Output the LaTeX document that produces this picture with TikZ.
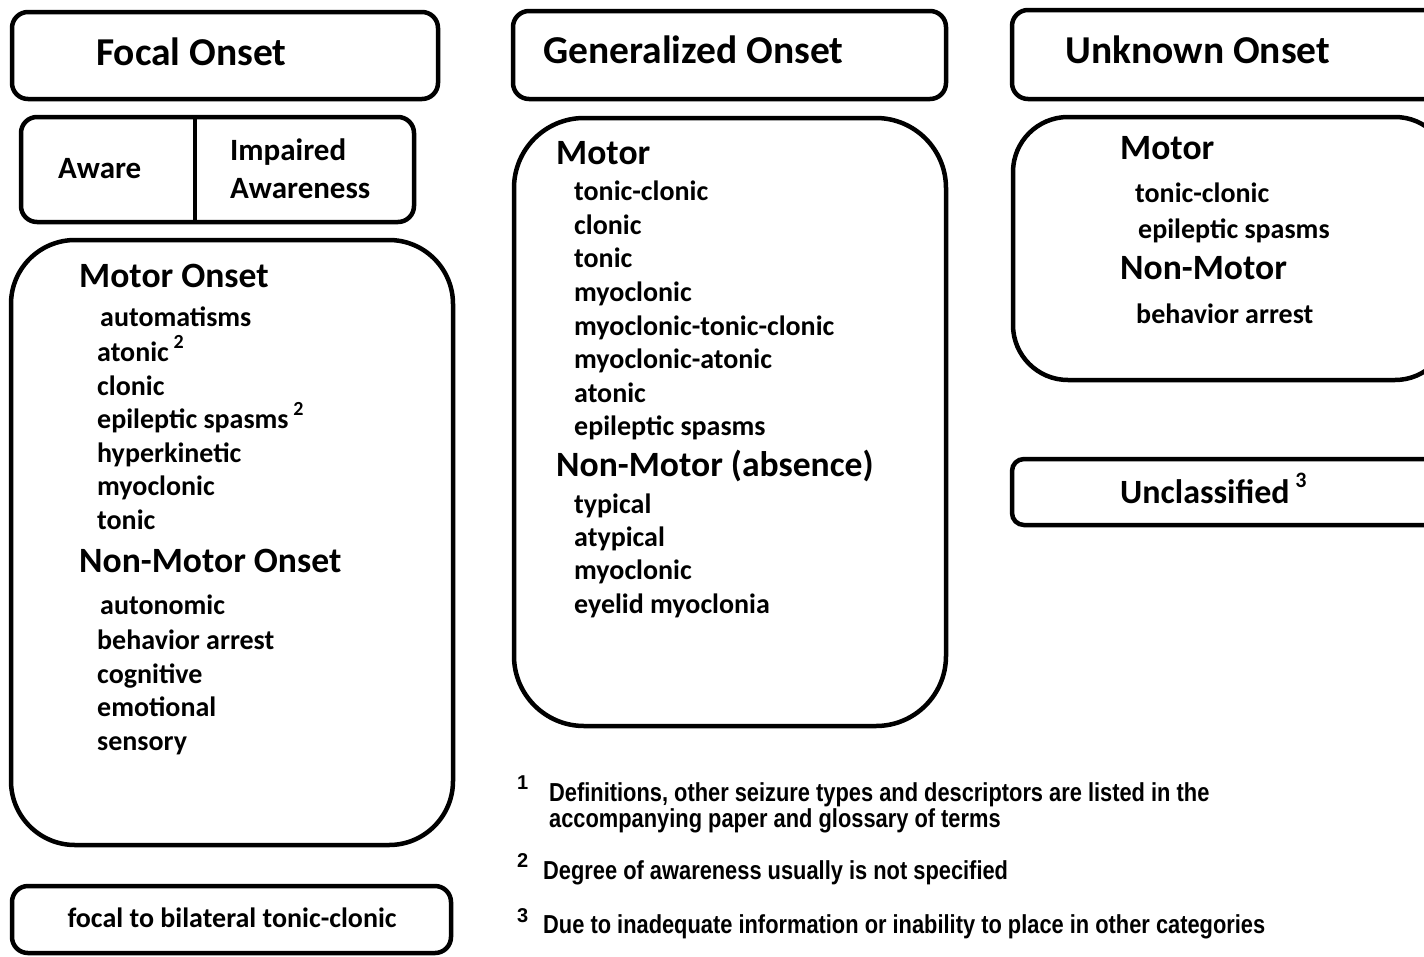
\documentclass[tikz,border=0pt]{standalone}
\usepackage{fontspec}
\setmainfont{Carlito}
\newfontfamily\fnfont{Liberation Sans}[FakeStretch=0.84]
\newfontfamily\mkfont{Liberation Sans}
\begin{document}
\begin{tikzpicture}[x=1pt,y=-1pt,
  hbox/.style={draw, line width=4.5pt, rounded corners=16pt},
  bigbox/.style={draw, line width=4.5pt, rounded corners=64pt},
  ttl/.style={anchor=base west, inner sep=0pt, font=\bfseries\fontsize{39.5}{42}\selectfont},
  hdr/.style={anchor=base west, inner sep=0pt, font=\bfseries\fontsize{35.6}{38}\selectfont},
  itm/.style={anchor=base west, inner sep=0pt, font=\bfseries\fontsize{28}{30}\selectfont},
  aw/.style={anchor=base west, inner sep=0pt, font=\bfseries\fontsize{31}{33}\selectfont},
  fn/.style={anchor=base west, inner sep=0pt, font=\fnfont\bfseries\fontsize{26}{28}\selectfont},
  mk/.style={anchor=base west, inner sep=0pt, font=\mkfont\bfseries\fontsize{20}{22}\selectfont}]
\clip (0,0) rectangle (1424,956);
\fill[white] (0,0) rectangle (1424,956);
% ---- Focal column
\draw[hbox] (12,12) rectangle (438,99);
\node[ttl] (focal) at (96,65) {Focal Onset};
\draw[hbox] (21,117) rectangle (414,222);
\draw[line width=4.5pt] (195,117) -- (195,222);
\node[aw] (aware) at (58,178) {Aware};
\node[aw] (imp1) at (230,160) {Impaired};
\node[aw] (imp2) at (230,198) {Awareness};
\draw[bigbox] (11,240) rectangle (453,845);
\node[hdr] (fmotor) at (79,287) {Motor Onset};
\node[itm] (f1) at (100,326) {automatisms};
\node[itm] (f2) at (97,361) {atonic\,\raisebox{0.45em}{\fontsize{20}{22}\selectfont 2}};
\node[itm] (f3) at (97,395) {clonic};
\node[itm] (f4) at (97,428) {epileptic spasms\,\raisebox{0.45em}{\fontsize{20}{22}\selectfont 2}};
\node[itm] (f5) at (97,462) {hyperkinetic};
\node[itm] (f6) at (97,495) {myoclonic};
\node[itm] (f7) at (97,529) {tonic};
\node[hdr] (fnon) at (79,572) {Non-Motor Onset};
\node[itm] (f8) at (100,614) {autonomic};
\node[itm] (f9) at (97,649) {behavior arrest};
\node[itm] (f10) at (97,683) {cognitive};
\node[itm] (f11) at (97,716) {emotional};
\node[itm] (f12) at (97,750) {sensory};
\draw[hbox] (12,886) rectangle (451,953);
\node[itm, anchor=base] (fbtc) at (232,927) {focal to bilateral tonic-clonic};
% ---- Generalized column
\draw[hbox] (513,11) rectangle (946,99);
\node[ttl] (gen) at (543,63) {Generalized Onset};
\draw[bigbox, rounded corners=70pt] (514,118) rectangle (946,726);
\node[hdr] (gmotor) at (556,164) {Motor};
\node[itm] (g1) at (574,200) {tonic-clonic};
\node[itm] (g2) at (574,234) {clonic};
\node[itm] (g3) at (574,267) {tonic};
\node[itm] (g4) at (574,301) {myoclonic};
\node[itm] (g5) at (574,335) {myoclonic-tonic-clonic};
\node[itm] (g6) at (574,368) {myoclonic-atonic};
\node[itm] (g7) at (574,402) {atonic};
\node[itm] (g8) at (574,435) {epileptic spasms};
\node[hdr] (gnon) at (556,476) {Non-Motor (absence)};
\node[itm] (g9) at (574,513) {typical};
\node[itm] (g10) at (574,546) {atypical};
\node[itm] (g11) at (574,579) {myoclonic};
\node[itm] (g12) at (574,613) {eyelid myoclonia};
% ---- Unknown column
\draw[hbox] (1012,10) rectangle (1450,99);
\node[ttl] (unk) at (1065,63) {Unknown Onset};
\draw[bigbox, rounded corners=55pt] (1013,117) rectangle (1450,380);
\node[hdr] (umotor) at (1120,159) {Motor};
\node[itm] (u1) at (1135,202) {tonic-clonic};
\node[itm] (u2) at (1138,238) {epileptic spasms};
\node[hdr] (unon) at (1120,279) {Non-Motor};
\node[itm] (u3) at (1136,323) {behavior arrest};
\draw[hbox, rounded corners=12pt] (1012,459) rectangle (1450,525);
\node[hdr, font=\bfseries\fontsize{34}{36}\selectfont] (uncl) at (1120,503) {Unclassified\,\raisebox{0.45em}{\fontsize{22}{24}\selectfont 3}};
% ---- Footnotes
\node[mk] (m1) at (517,789) {1};
\node[fn] (n1a) at (549,801) {Definitions, other seizure types and descriptors are listed in the};
\node[fn] (n1b) at (549,827) {accompanying paper and glossary of terms};
\node[mk] (m2) at (517,867) {2};
\node[fn] (n2) at (543,879) {Degree of awareness usually is not specified};
\node[mk] (m3) at (517,922) {3};
\node[fn] (n3) at (543,933) {Due to inadequate information or inability to place in other categories};
\end{tikzpicture}
\end{document}
